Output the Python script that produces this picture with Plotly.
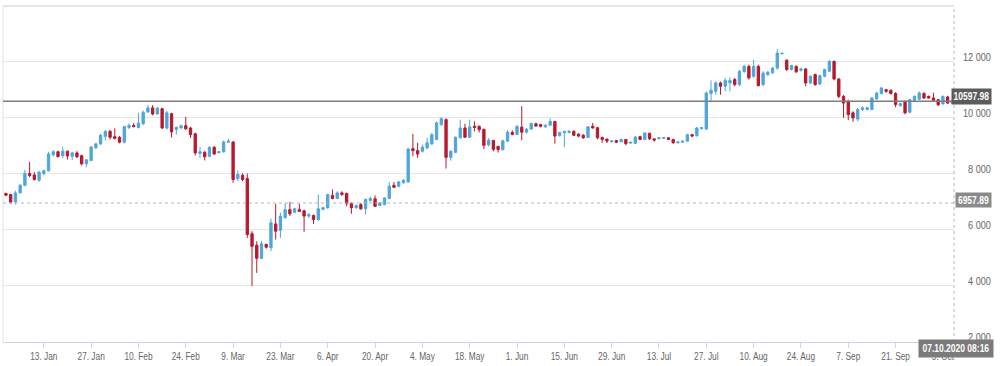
import pandas as pd
import plotly.graph_objects as go

# ---------------- data (weekday candles, 1 Jan 2020 - 7 Oct 2020) ----------------
open_ = [
    # Jan
    7297, 7260, 7000, 7320, 7590, 8010, 7960, 7770, 8010, 8110, 8680, 8790, 8650, 8810, 8630, 8750, 8650, 8360, 8480, 8930, 9070, 9340, 9520,
    # Feb
    9330, 9310, 9130, 9660, 9730, 9660, 9790, 10210, 10360, 10140, 10330, 9640, 10150, 9590, 9640, 9720, 9640, 9430, 8730, 8770,
    # Mar
    8630, 8950, 8760, 8790, 9130, 9140, 7830, 7950, 7830, 5860, 5450, 4980, 5480, 5360, 6210, 5980, 6430, 6720, 6630, 6720, 6680, 6490,
    # Apr
    6510, 6370, 6730, 6790, 7230, 7120, 7320, 7300, 6940, 6790, 6900, 6750, 7050, 7110, 6870, 6900, 7120, 7590, 7560, 7680, 7710, 8900,
    # May
    8830, 8810, 8930, 9070, 9230, 9760, 9940, 8590, 8770, 9290, 9640, 9310, 9700, 9700, 9590, 9040, 9190, 8980, 8870, 9170, 9480,
    # Jun
    9410, 9670, 9490, 9600, 9790, 9760, 9680, 9740, 9870, 9360, 9470, 9480, 9520, 9420, 9380, 9300, 9700, 9650, 9300, 9240, 9150, 9190,
    # Jul
    9150, 9230, 9100, 9090, 9330, 9230, 9450, 9250, 9260, 9270, 9290, 9230, 9110, 9130, 9170, 9400, 9360, 9620, 9600, 10870, 10950, 11250, 11130,
    # Aug
    11250, 11370, 11190, 11660, 11840, 11490, 11840, 11190, 11550, 11610, 11780, 12290, 12060, 11730, 11840, 11700, 11750, 11250, 11550, 11210, 11490,
    # Sep
    11670, 12020, 11390, 10770, 10590, 10180, 9960, 10300, 10300, 10300, 10680, 10870, 11010, 10990, 10870, 10440, 10590, 10200, 10630, 10670, 10870, 10770,
    # Oct
    10710, 10650, 10500, 10750, 10530,
]
high = [
    7330, 7290, 7400, 7640, 8150, 8430, 8060, 8110, 8150, 8790, 8850, 8830, 8970, 8830, 8790, 8810, 8690, 8530, 8990, 9110, 9430, 9560, 9570,
    9620, 9350, 9720, 9800, 9820, 10180, 10260, 10460, 10460, 10380, 10360, 10260, 10180, 9700, 9760, 10040, 9680, 9470, 8960, 8820,
    8990, 8990, 8810, 9190, 9250, 9170, 8120, 8020, 8010, 5950, 5590, 5600, 5500, 6400, 6930, 6610, 6960, 7000, 6790, 6930, 6720, 6600,
    6550, 7260, 6830, 7290, 7440, 7380, 7380, 7330, 6990, 6900, 6960, 7120, 7190, 7230, 6990, 7160, 7710, 7710, 7750, 7810, 8930, 9430,
    9110, 9050, 9290, 9460, 9880, 10020, 9980, 8830, 9330, 9940, 9790, 9940, 9880, 9730, 9620, 9280, 9220, 9010, 9220, 9560, 9560,
    9740, 10420, 9630, 9830, 9830, 9790, 9770, 9980, 9900, 9500, 9540, 9560, 9560, 9450, 9420, 9700, 9820, 9680, 9330, 9270, 9200, 9210,
    9260, 9250, 9150, 9340, 9360, 9480, 9470, 9270, 9310, 9310, 9300, 9250, 9160, 9190, 9430, 9430, 9680, 9680, 10950, 11340, 11310, 11300, 11430,
    11450, 11430, 11720, 11900, 11900, 12080, 11900, 11670, 11680, 11820, 12460, 12330, 12100, 11900, 11880, 11790, 11780, 11520, 11580, 11540, 11760,
    12060, 12050, 11420, 10820, 10650, 10240, 10360, 10420, 10400, 10750, 10930, 11100, 11040, 11010, 10920, 10540, 10620, 10680, 10800, 10950, 10920, 10800,
    10900, 10680, 10800, 10790, 10650,
]
low = [
    7200, 6930, 6900, 7300, 7560, 7880, 7760, 7720, 7960, 8080, 8620, 8580, 8570, 8510, 8490, 8570, 8300, 8240, 8450, 8890, 9030, 9200, 9230,
    9230, 9090, 9090, 9600, 9660, 9620, 9740, 10180, 10090, 10120, 9600, 9580, 9300, 9400, 9610, 9570, 9290, 8660, 8570, 8480,
    8590, 8680, 8730, 8750, 9100, 7680, 7740, 7740, 5710, 3990, 4460, 4950, 5330, 5240, 5650, 5710, 6400, 6500, 6600, 6640, 5930, 6430,
    6210, 6310, 6700, 6750, 7090, 7100, 7220, 6840, 6570, 6760, 6720, 6550, 7000, 6820, 6840, 6880, 7090, 7500, 7520, 7650, 7690, 8630,
    8570, 8760, 8880, 9040, 9200, 9720, 8190, 8470, 8740, 9260, 9280, 9290, 9520, 9480, 8880, 8980, 8800, 8760, 8830, 9130, 9380,
    9390, 9200, 9440, 9570, 9680, 9660, 9650, 9720, 9080, 9340, 8960, 9440, 9350, 9310, 9250, 9280, 9620, 9230, 9110, 9100, 9120, 9100,
    9130, 9020, 9080, 9060, 9210, 9210, 9220, 9150, 9230, 9250, 9200, 9080, 9090, 9110, 9150, 9320, 9340, 9580, 9580, 10590, 10830, 10830, 10950,
    10950, 11130, 11130, 11600, 11370, 11430, 11130, 11130, 11500, 11580, 11720, 12270, 11670, 11700, 11600, 11660, 11130, 11200, 11150, 11180, 11450,
    11640, 11340, 10700, 10000, 9920, 9860, 9880, 10250, 10270, 10280, 10650, 10840, 10900, 10840, 10380, 10400, 10130, 10170, 10600, 10640, 10680, 10690,
    10580, 10420, 10480, 10500, 10510,
]
close = [
    7236, 6990, 7320, 7590, 8010, 7940, 7800, 8060, 8110, 8710, 8790, 8620, 8810, 8640, 8750, 8610, 8360, 8500, 8960, 9070, 9380, 9520, 9310,
    9270, 9130, 9690, 9730, 9690, 9820, 10200, 10360, 10140, 10350, 9640, 10180, 9500, 9660, 9720, 9610, 9400, 8750, 8790, 8610,
    8950, 8710, 8790, 9140, 9170, 7800, 7980, 7800, 5830, 5410, 4980, 5500, 5380, 6250, 5950, 6490, 6720, 6570, 6750, 6660, 6490, 6540,
    6370, 6750, 6790, 7260, 7120, 7320, 7260, 6930, 6790, 6870, 6750, 7080, 7120, 6840, 6960, 7140, 7560, 7520, 7710, 7770, 8890, 8830,
    8710, 8960, 9110, 9400, 9820, 9970, 8590, 8810, 9310, 9640, 9310, 9680, 9660, 9580, 9020, 9200, 8880, 8870, 9180, 9490, 9410,
    9700, 9490, 9600, 9800, 9710, 9700, 9740, 9870, 9350, 9480, 9520, 9520, 9380, 9350, 9290, 9680, 9640, 9290, 9230, 9170, 9180, 9130,
    9230, 9080, 9130, 9320, 9230, 9460, 9250, 9210, 9290, 9290, 9230, 9110, 9140, 9170, 9400, 9350, 9640, 9650, 10890, 10990, 11250, 11130, 11340,
    11340, 11190, 11660, 11840, 11430, 11840, 11150, 11600, 11630, 11780, 12320, 12310, 11730, 11870, 11650, 11750, 11250, 11490, 11190, 11510, 11730,
    12020, 11390, 10770, 10530, 10120, 10000, 10300, 10360, 10360, 10710, 10890, 11070, 10950, 10870, 10480, 10510, 10180, 10650, 10770, 10890, 10710, 10710,
    10630, 10470, 10770, 10530, 10598,
]

dates = pd.bdate_range("2020-01-01", "2020-10-07")
assert len(dates) == len(open_) == len(high) == len(low) == len(close), (len(dates), len(open_), len(high), len(low), len(close))

x_tick_dates = ["2020-01-13", "2020-01-27", "2020-02-10", "2020-02-24", "2020-03-09", "2020-03-23",
                "2020-04-06", "2020-04-20", "2020-05-04", "2020-05-18", "2020-06-01", "2020-06-15",
                "2020-06-29", "2020-07-13", "2020-07-27", "2020-08-10", "2020-08-24", "2020-09-07",
                "2020-09-21", "2020-10-05"]
x_tick_labels = ["13. Jan", "27. Jan", "10. Feb", "24. Feb", "9. Mar", "23. Mar", "6. Apr", "20. Apr",
                 "4. May", "18. May", "1. Jun", "15. Jun", "29. Jun", "13. Jul", "27. Jul", "10. Aug",
                 "24. Aug", "7. Sep", "21. Sep", "5. Oct"]
y_tick_vals = [2000, 4000, 6000, 8000, 10000, 12000]
y_tick_labels = ["2 000", "4 000", "6 000", "8 000", "10 000", "12 000"]

last_price = 10597.98
ref_price = 6957.89
now_label = "07.10.2020 08:16"
now_time = "2020-10-07 08:16"

# ---------------- styling ----------------
UP = "#4ea6dc"
DOWN = "#b8182d"
FONT = "Liberation Sans, Arial, sans-serif"

fig = go.Figure(go.Candlestick(
    x=dates, open=open_, high=high, low=low, close=close,
    increasing=dict(line=dict(color=UP, width=1), fillcolor=UP),
    decreasing=dict(line=dict(color=DOWN, width=1), fillcolor=DOWN),
    whiskerwidth=0, showlegend=False, hoverinfo="skip",
))

fig.update_layout(
    width=1000, height=366,
    margin=dict(l=3, r=42, t=6, b=24),
    paper_bgcolor="white", plot_bgcolor="white",
    showlegend=False,
    font=dict(family=FONT, size=11, color="#666666"),
    xaxis=dict(
        type="date",
        range=["2019-12-31 09:00", now_time],
        rangebreaks=[dict(bounds=["sat", "mon"])],
        rangeslider=dict(visible=False),
        tickvals=x_tick_dates, ticktext=x_tick_labels,
        ticks="outside", ticklen=5, tickcolor="#ccd6eb",
        showline=True, linecolor="#ccd6eb", linewidth=1,
        showgrid=False, zeroline=False,
        tickfont=dict(family=FONT, size=10, color="#666666"),
    ),
    yaxis=dict(
        side="right",
        range=[1990, 14000],
        tickvals=y_tick_vals, ticktext=y_tick_labels,
        showgrid=True, gridcolor="#e6e6e6", gridwidth=1,
        zeroline=False, ticks="",
        ticklabelshift=-5, ticklabelstandoff=8,
        tickfont=dict(family=FONT, size=11, color="#666666"),
    ),
)

# plot frame: top and left borders, dashed "now" line at the right edge
fig.add_shape(type="line", xref="paper", yref="paper", x0=0, x1=1, y0=1, y1=1,
              line=dict(color="#dddddd", width=1.5))
fig.add_shape(type="line", xref="paper", yref="paper", x0=0, x1=0, y0=0, y1=1,
              line=dict(color="#e3e3e3", width=1))
fig.add_shape(type="line", xref="paper", yref="paper", x0=1, x1=1, y0=0, y1=1,
              line=dict(color="#b5b5b5", width=1, dash="3px,3px"))

# price lines
fig.add_shape(type="line", xref="paper", yref="y", x0=0, x1=1, y0=last_price, y1=last_price,
              line=dict(color="#7d7d7d", width=1.5), layer="above")
fig.add_shape(type="line", xref="paper", yref="y", x0=0, x1=1, y0=ref_price, y1=ref_price,
              line=dict(color="#b5b5b5", width=1, dash="3px,3px"), layer="above")

# badges
badge_font = dict(family=FONT, size=10, color="white", weight="bold")
fig.add_annotation(x=1, xref="paper", y=last_price, yref="y", xanchor="left", yanchor="middle",
                   xshift=-3, yshift=5, text=f"{last_price:.2f}", showarrow=False,
                   width=39, height=15, bgcolor="#5c5c5c", borderpad=0, font=badge_font)
fig.add_annotation(x=1, xref="paper", y=ref_price, yref="y", xanchor="left", yanchor="middle",
                   xshift=1, yshift=3, text=f"{ref_price:.2f}", showarrow=False,
                   width=35, height=14, bgcolor="#8a8a8a", borderpad=0, font=badge_font)
fig.add_annotation(x=1, xref="paper", y=0, yref="paper", xanchor="center", yanchor="middle",
                   xshift=2, yshift=-6.5, text=now_label, showarrow=False,
                   width=74, height=17, bgcolor="#7b7b7b", borderpad=0, font=badge_font)

# page without body margin; labels drawn in a condensed width like the original,
# y labels right-aligned as in the original
post = """
document.body.style.margin = '0px';
var gd = document.getElementById('{plot_id}');
function squeeze(sel, f) {
  gd.querySelectorAll(sel).forEach(function (t) {
    var w = t.getComputedTextLength();
    if (w > 0) {
      t.setAttribute('lengthAdjust', 'spacingAndGlyphs');
      t.setAttribute('textLength', (w * f).toFixed(2));
    }
  });
}
squeeze('.xtick text', 0.83);
squeeze('.ytick text', 0.83);
squeeze('.annotation-text', 0.85);
var ys = gd.querySelectorAll('.ytick text');
var mw = 0;
ys.forEach(function (t) { mw = Math.max(mw, parseFloat(t.getAttribute('textLength') || 0)); });
ys.forEach(function (t) {
  var d = mw - parseFloat(t.getAttribute('textLength') || mw);
  var x0 = parseFloat(t.getAttribute('x') || 0);
  t.setAttribute('x', (x0 + d).toFixed(2));
});
"""

fig.write_html("out.html", post_script=post, config={"displayModeBar": False})
